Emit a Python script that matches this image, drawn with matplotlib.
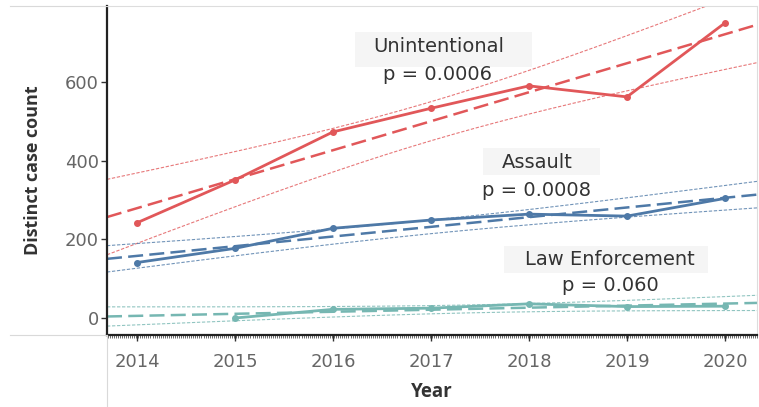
import matplotlib
matplotlib.use("Agg")
import matplotlib.pyplot as plt
from matplotlib.lines import Line2D
from matplotlib.patches import Rectangle
import numpy as np

plt.rcParams['font.family'] = ['DejaVu Sans']

# data
years = [2014, 2015, 2016, 2017, 2018, 2019, 2020]
unintentional = [242, 351, 473, 533, 590, 562, 750]
assault = [141, 177, 228, 249, 264, 259, 304]
law_years = [2015, 2016, 2017, 2018, 2019, 2020]
law_enforcement = [0, 22, 25, 36, 29, 30]

series = [
    ("Unintentional", years, unintentional, "#e15759", 2.571, "p = 0.0006"),
    ("Assault", years, assault, "#4e79a7", 2.571, "p = 0.0008"),
    ("Law Enforcement", law_years, law_enforcement, "#76b7b2", 2.776, "p = 0.060"),
]

W, H = 759, 407
xmin, xmax = 2013.694, 2020.327
ymin, ymax = -43.2, 793

fig = plt.figure(figsize=(W / 100, H / 100), dpi=100)
ax = fig.add_axes([107 / W, 1 - 335 / H, 650 / W, 329 / H])

xs = np.linspace(xmin, xmax, 200)
for name, x, y, color, tval, ptxt in series:
    x = np.array(x, dtype=float)
    y = np.array(y, dtype=float)
    slope, intercept = np.polyfit(x, y, 1)
    fit = slope * xs + intercept
    resid = y - (slope * x + intercept)
    s = np.sqrt(np.sum(resid ** 2) / (len(x) - 2))
    se = s * np.sqrt(1 / len(x) + (xs - x.mean()) ** 2 / np.sum((x - x.mean()) ** 2))
    band = tval * se
    ax.plot(xs, fit + band, color=color, lw=0.8, ls=(0, (3, 1.5)), alpha=0.8)
    ax.plot(xs, fit - band, color=color, lw=0.8, ls=(0, (3, 1.5)), alpha=0.8)
    ax.plot(xs, fit, color=color, lw=1.8, ls=(0, (6, 2.5)))
    ax.plot(x, y, color=color, lw=2.0, marker="o", ms=4)


# label boxes, given in pixels of the picture
def pane_box(x0, y0, x1, y1):
    rect = Rectangle((x0 / W, 1 - y1 / H), (x1 - x0) / W, (y1 - y0) / H,
                     transform=fig.transFigure, fc="#f5f5f5", ec="none", zorder=0.5)
    ax.add_patch(rect)


pane_box(355, 32, 532, 67)
pane_box(483, 148, 600, 175)
pane_box(504, 246, 708, 273)

label_style = dict(ha="center", va="center", fontsize=14, color="#333333")
ax.text(2017.08, 689, "Unintentional", **label_style)
ax.text(2017.07, 618, "p = 0.0006", **label_style)
ax.text(2018.08, 394, "Assault", **label_style)
ax.text(2018.08, 325, "p = 0.0008", **label_style)
ax.text(2018.83, 148, "Law Enforcement", **label_style)
ax.text(2018.83, 82, "p = 0.060", **label_style)

ax.set_xlim(xmin, xmax)
ax.set_ylim(ymin, ymax)
ax.set_xticks(years)
ax.set_yticks([0, 200, 400, 600])
ax.set_xticks(np.arange(2013.70, xmax, 1 / 48), minor=True)
ax.tick_params(axis="x", which="major", length=4, width=1, color="#333333",
               labelsize=13, labelcolor="#666666", pad=9)
ax.tick_params(axis="x", which="minor", length=2, width=0.5, color="#333333")
ax.tick_params(axis="y", length=4, width=1, color="#333333",
               labelsize=13, labelcolor="#666666", pad=2)

ax.set_xlabel("Year", fontsize=13.5, fontweight="bold", color="#333333",
              labelpad=8, family=["Open Sans", "DejaVu Sans"])
ax.set_ylabel("Distinct case count", fontsize=13, fontweight="bold", color="#333333",
              labelpad=16, family=["Open Sans", "DejaVu Sans"])

for side in ["top", "right"]:
    ax.spines[side].set_color("#dddddd")
    ax.spines[side].set_linewidth(0.8)
for side in ["left", "bottom"]:
    ax.spines[side].set_color("#222222")
    ax.spines[side].set_linewidth(1.6)

# pane borders outside the plot area
gray = "#d9d9d9"
fig.add_artist(Line2D([10 / W, 107 / W], [1 - 6 / H, 1 - 6 / H], color=gray, lw=0.8))
fig.add_artist(Line2D([10 / W, 107 / W], [1 - 335 / H, 1 - 335 / H], color=gray, lw=0.8))
fig.add_artist(Line2D([107 / W, 107 / W], [0, 1 - 335 / H], color=gray, lw=0.8))

fig.savefig("out.png", dpi=100)
